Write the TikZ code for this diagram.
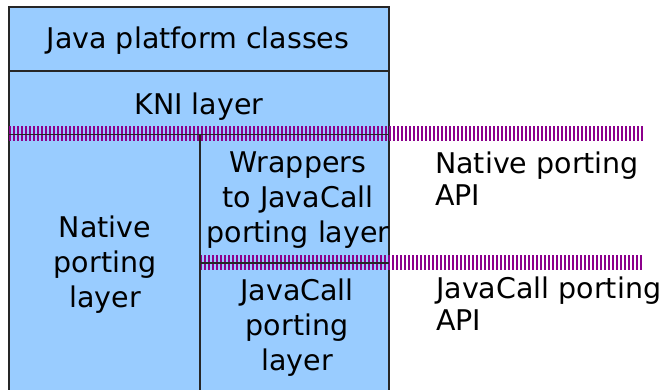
\documentclass[tikz,border=0pt]{standalone}
\usepackage{fontspec}
\setmainfont{DejaVu Sans}
\definecolor{layerfill}{RGB}{153,204,255}
\definecolor{apiline}{RGB}{140,0,140}
\begin{document}
\begin{tikzpicture}[x=1pt,y=-1pt,
  layertext/.style={font=\fontsize{28.5}{35}\selectfont, align=center, inner sep=0pt, anchor=base},
  apitext/.style={font=\fontsize{28.5}{32}\selectfont, align=left, inner sep=0pt, anchor=base west},
  border/.style={draw=black!85, line width=1.3pt},
  apiband/.style={draw=apiline, line width=15pt, dash pattern=on 2.2pt off 1.8pt}]
\useasboundingbox (0,0) rectangle (663,389);
% layer stack
\fill[layerfill] (9,7) rectangle (389,395);
\draw[border] (9,395) -- (9,7) -- (389,7) -- (389,395);
\draw[border] (9,71) -- (389,71);
% API boundaries
\coordinate (napiL) at (9,133.5);
\coordinate (napiR) at (643,133.5);
\coordinate (japiL) at (200,262.5);
\coordinate (japiR) at (643,262.5);
\draw[apiband] (napiL) -- (napiR);
\draw[apiband] (japiL) -- (japiR);
\draw[border] (9,134.5) -- (389,134.5);
\draw[border] (200,263) -- (389,263);
\draw[border] (200,134.5) -- (200,395);
% layer labels (anchored at the baseline of the last line)
\node[layertext] (jpc) at (198,48) {Java platform classes};
\node[layertext] (kni) at (199,114) {KNI layer};
\node[layertext] (npl) at (105,307) {Native\\porting\\layer};
\node[layertext] (wrap) at (298,242) {Wrappers\\to JavaCall\\porting layer};
\node[layertext] (jcpl) at (297,370) {JavaCall\\porting\\layer};
% API labels
\node[apitext] (napi) at (435,205) {Native porting\\API};
\node[apitext] (japi) at (436,330) {JavaCall porting\\API};
\end{tikzpicture}
\end{document}
